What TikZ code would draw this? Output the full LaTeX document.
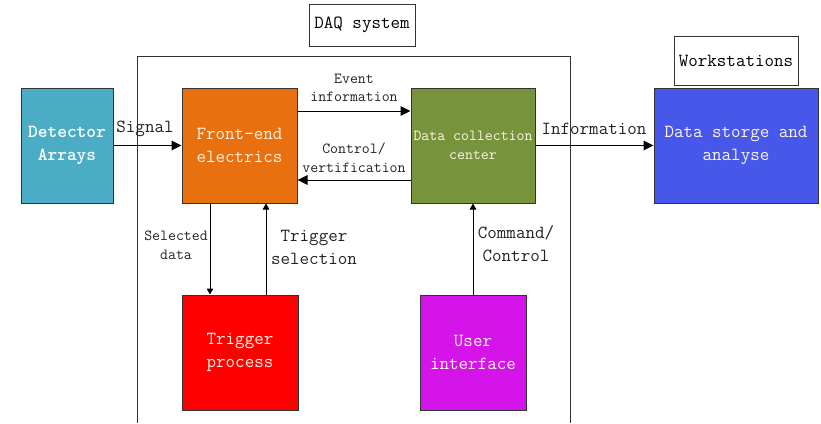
\documentclass[tikz,border=0pt]{standalone}
\usepackage{fontspec}
\usetikzlibrary{arrows.meta}

\definecolor{cDet}{HTML}{4BACC6}
\definecolor{cFE}{HTML}{E8700F}
\definecolor{cDCC}{HTML}{77933C}
\definecolor{cDSA}{HTML}{4757EA}
\definecolor{cTP}{HTML}{FF0000}
\definecolor{cUI}{HTML}{D514EA}
\definecolor{cBorder}{HTML}{333333}
\definecolor{cInText}{HTML}{FFF4E8}
\definecolor{cLabel}{HTML}{222222}

\newcommand{\bigtxt}{\ttfamily\fontsize{18.5}{23.5}\selectfont}
\newcommand{\smalltxt}{\ttfamily\fontsize{15.4}{18.5}\selectfont}

\tikzset{
  block/.style={draw=cBorder, line width=1pt, inner sep=0pt, align=center,
    text=cInText, font=\bigtxt, minimum height=115pt},
  tagbox/.style={draw=cBorder, line width=1pt, inner sep=0pt, align=center,
    text=black, font=\bigtxt},
  lbl/.style={inner sep=0pt, align=center, text=cLabel, font=\bigtxt},
  slbl/.style={inner sep=0pt, align=center, text=cLabel, font=\smalltxt},
  harr/.style={line width=1pt, -{Triangle[length=10pt,width=9.5pt]}},
  varr/.style={line width=1pt, -{Triangle[length=6pt,width=6.5pt]}},
}

\begin{document}
\begin{tikzpicture}[x=1pt, y=-1pt]
\useasboundingbox (0,0) rectangle (821,423);

% DAQ system frame (open at the bottom)
\draw[line width=1pt, cBorder] (137,423) -- (137,56) -- (570,56) -- (570,423);

% tags
\node[tagbox, minimum width=106pt, minimum height=42pt] (daq) at (362,25) {DAQ system};
\node[tagbox, minimum width=124pt, minimum height=49pt] (ws) at (736,60.5) {Workstations};

% blocks
\node[block, fill=cDet, minimum width=92pt, font=\bigtxt\bfseries, text=white] (det) at (67,145.5) {Detector\\Arrays};
\node[block, fill=cFE, minimum width=115pt] (fe) at (239.5,145.5) {Front-end\\electrics};
\node[block, fill=cDCC, minimum width=124pt, font=\smalltxt] (dcc) at (473,145.5) {Data collection\\center};
\node[block, fill=cDSA, minimum width=164pt] (dsa) at (736,145.5) {Data storge and\\analyse};
\node[block, fill=cTP, minimum width=116pt] (tp) at (240,352.5) {Trigger\\process};
\node[block, fill=cUI, minimum width=106pt] (ui) at (473,352.5) {User\\interface};

% horizontal connectors
\draw[harr] (det.east) -- (fe.west);
\draw[harr] ([yshift=34.5pt]fe.east) -- ([yshift=34.5pt]dcc.west);
\draw[harr] ([yshift=-34.5pt]dcc.west) -- ([yshift=-34.5pt]fe.east);
\draw[harr] (dcc.east) -- (dsa.west);

% vertical connectors
\draw[varr] ([xshift=-29.5pt]fe.south) -- ([xshift=-29.5pt]fe.south |- tp.north);
\draw[varr] ([xshift=26pt]tp.north) -- ([xshift=26pt]tp.north |- fe.south);
\draw[varr] (ui.north) -- (dcc.south);

% connector labels
\node[lbl] (lsig) at (145,129) {Signal};
\node[slbl] (lev) at (354,88) {Event\\information};
\node[slbl] (lctl) at (354,157.5) {Control/\\vertification};
\node[lbl] (linf) at (594,129) {Information};
\node[slbl] (lsel) at (176,245) {Selected\\data};
\node[lbl] (ltrg) at (314,247.5) {Trigger\\selection};
\node[lbl] (lcmd) at (516,243.5) {Command/\\Control};
\end{tikzpicture}
\end{document}
